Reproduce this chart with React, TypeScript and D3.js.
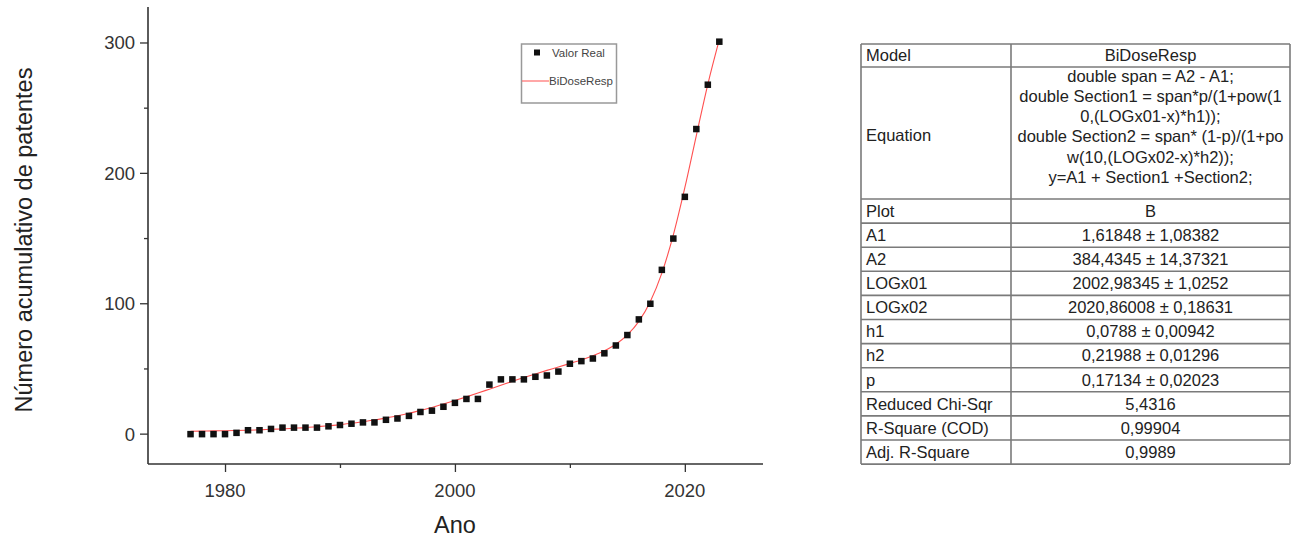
import { useEffect, useRef } from 'react';
import * as d3 from 'd3';

const years = [
  1977, 1978, 1979, 1980, 1981, 1982, 1983, 1984, 1985, 1986, 1987, 1988,
  1989, 1990, 1991, 1992, 1993, 1994, 1995, 1996, 1997, 1998, 1999, 2000,
  2001, 2002, 2003, 2004, 2005, 2006, 2007, 2008, 2009, 2010, 2011, 2012,
  2013, 2014, 2015, 2016, 2017, 2018, 2019, 2020, 2021, 2022, 2023,
];
const realValues = [
  0, 0, 0, 0, 1, 3, 3, 4, 5, 5, 5, 5,
  6, 7, 8, 9, 9, 11, 12, 14, 17, 18, 21, 24,
  27, 27, 38, 42, 42, 42, 44, 45, 48, 54, 56, 58,
  62, 68, 76, 88, 100, 126, 150, 182, 234, 268, 301,
];
// fitted BiDoseResp curve
const fitValues = [
  2.2, 2.3, 2.5, 2.6, 2.8, 3.0, 3.3, 3.7, 4.0, 4.5, 5.0, 5.7,
  6.4, 7.3, 8.3, 9.5, 10.8, 12.4, 14.1, 16.0, 18.2, 20.5, 23.1, 25.8,
  28.6, 31.5, 34.5, 37.5, 40.5, 43.4, 46.2, 48.9, 51.5, 54.2, 56.9, 60.1,
  63.9, 68.9, 76.1, 86.5, 101.8, 123.5, 152.8, 189.0, 229.0, 268.3, 302.5,
];

const xTickLabels = [1980, 2000, 2020];
const yTickLabels = [0, 100, 200, 300];

const tableLabels = [
  'Plot', 'A1', 'A2', 'LOGx01', 'LOGx02', 'h1', 'h2', 'p',
  'Reduced Chi-Sqr', 'R-Square (COD)', 'Adj. R-Square',
];
const tableValues = [
  'B', '1,61848 ± 1,08382', '384,4345 ± 14,37321', '2002,98345 ± 1,0252',
  '2020,86008 ± 0,18631', '0,0788 ± 0,00942', '0,21988 ± 0,01296',
  '0,17134 ± 0,02023', '5,4316', '0,99904', '0,9989',
];
const equationLines = [
  'double span = A2 - A1;',
  'double Section1 = span*p/(1+pow(1',
  '0,(LOGx01-x)*h1));',
  'double Section2 = span* (1-p)/(1+po',
  'w(10,(LOGx02-x)*h2));',
  'y=A1 + Section1 +Section2;',
];

const FONT = '"Liberation Sans", Arial, sans-serif';

function App() {
  const svgRef = useRef<SVGSVGElement>(null);

  useEffect(() => {
    if (!svgRef.current) return;
    const svg = d3.select(svgRef.current);
    svg.selectAll('*').remove();

    const left = 148, right = 763, top = 7, bottom = 464;
    const x = d3.scaleLinear().domain([1973.3, 2026.8]).range([left, right]);
    const y = d3.scaleLinear().domain([-22.9, 327.6]).range([bottom, top]);

    const axisColor = '#333';
    const plot = svg.append('g').attr('font-family', FONT);

    // x axis
    const xAxis = d3.axisBottom(x)
      .tickValues([1980, 1990, 2000, 2010, 2020])
      .tickSize(0)
      .tickFormat(() => '');
    const gx = plot.append('g').attr('transform', `translate(0,${bottom})`).call(xAxis);
    gx.select('.domain').remove();
    plot.append('line')
      .attr('x1', left).attr('x2', right).attr('y1', bottom).attr('y2', bottom)
      .attr('stroke', axisColor).attr('stroke-width', 1.6);
    gx.selectAll('.tick').append('line')
      .attr('y2', d => (xTickLabels.includes(d as number) ? 8 : 4))
      .attr('stroke', axisColor).attr('stroke-width', 1.3);
    plot.selectAll('.xlab')
      .data(xTickLabels)
      .enter()
      .append('text')
      .attr('x', d => x(d))
      .attr('y', 497)
      .attr('text-anchor', 'middle')
      .attr('font-size', 18.5)
      .attr('fill', axisColor)
      .text(d => d);

    // y axis
    plot.append('line')
      .attr('x1', left).attr('x2', left).attr('y1', top).attr('y2', bottom)
      .attr('stroke', axisColor).attr('stroke-width', 1.6);
    plot.selectAll('.ytick')
      .data([0, 50, 100, 150, 200, 250, 300])
      .enter()
      .append('line')
      .attr('x1', d => left - (yTickLabels.includes(d) ? 8 : 4))
      .attr('x2', left)
      .attr('y1', d => y(d)).attr('y2', d => y(d))
      .attr('stroke', axisColor).attr('stroke-width', 1.3);
    plot.selectAll('.ylab')
      .data(yTickLabels)
      .enter()
      .append('text')
      .attr('x', 135)
      .attr('y', d => y(d))
      .attr('dy', '0.35em')
      .attr('text-anchor', 'end')
      .attr('font-size', 18.5)
      .attr('fill', axisColor)
      .text(d => d);

    // axis titles
    plot.append('text')
      .attr('transform', 'translate(32,240) rotate(-90)')
      .attr('text-anchor', 'middle')
      .attr('font-size', 23.5)
      .attr('fill', '#222')
      .text('Número acumulativo de patentes');
    plot.append('text')
      .attr('x', x(2000))
      .attr('y', 533)
      .attr('text-anchor', 'middle')
      .attr('font-size', 23.5)
      .attr('fill', '#222')
      .text('Ano');

    // fit line
    const line = d3.line<number>()
      .x((_, i) => x(years[i]))
      .y(d => y(d))
      .curve(d3.curveMonotoneX);
    plot.append('path')
      .datum(fitValues)
      .attr('d', line)
      .attr('fill', 'none')
      .attr('stroke', '#ff3030')
      .attr('stroke-width', 1.1)
      .attr('opacity', 0.85);

    // data points
    const s = 6.5;
    plot.selectAll('.pt')
      .data(realValues)
      .enter()
      .append('rect')
      .attr('x', (_, i) => x(years[i]) - s / 2)
      .attr('y', d => y(d) - s / 2)
      .attr('width', s)
      .attr('height', s)
      .attr('fill', '#111');

    // legend
    const lg = plot.append('g');
    lg.append('rect')
      .attr('x', 521.5).attr('y', 44).attr('width', 95).attr('height', 59)
      .attr('fill', '#fff').attr('stroke', '#999').attr('stroke-width', 1.5);
    lg.append('rect')
      .attr('x', 534).attr('y', 49.5).attr('width', 6).attr('height', 6)
      .attr('fill', '#111');
    lg.append('text')
      .attr('x', 552).attr('y', 52.5).attr('dy', '0.35em')
      .attr('font-size', 11.5).attr('fill', '#444')
      .text('Valor Real');
    lg.append('line')
      .attr('x1', 522).attr('x2', 549).attr('y1', 81).attr('y2', 81)
      .attr('stroke', '#ff6060').attr('stroke-width', 1.1);
    lg.append('text')
      .attr('x', 549).attr('y', 81).attr('dy', '0.35em')
      .attr('font-size', 11.5).attr('fill', '#444')
      .text('BiDoseResp');

    // parameter table
    const tl = 861, tr = 1290, tc = 1011;
    const t0 = 44, modelBottom = 67, eqBottom = 199, rowH = 24.1;
    const tb = eqBottom + rowH * tableLabels.length;
    const tg = svg.append('g').attr('font-family', FONT).attr('font-size', 16.5).attr('fill', '#222');
    const border = '#7a7a7a';

    const hLines = [t0, modelBottom, eqBottom, ...tableLabels.map((_, i) => eqBottom + rowH * (i + 1))];
    tg.selectAll('.hl')
      .data(hLines)
      .enter()
      .append('line')
      .attr('x1', tl).attr('x2', tr)
      .attr('y1', d => d).attr('y2', d => d)
      .attr('stroke', border).attr('stroke-width', 1.6);
    tg.selectAll('.vl')
      .data([tl, tc, tr])
      .enter()
      .append('line')
      .attr('x1', d => d).attr('x2', d => d)
      .attr('y1', t0).attr('y2', tb)
      .attr('stroke', border).attr('stroke-width', 1.6);

    const mid = (tc + tr) / 2;
    tg.append('text').attr('x', tl + 5).attr('y', (t0 + modelBottom) / 2).attr('dy', '0.35em').text('Model');
    tg.append('text').attr('x', mid).attr('y', (t0 + modelBottom) / 2).attr('dy', '0.35em')
      .attr('text-anchor', 'middle').text('BiDoseResp');
    tg.append('text').attr('x', tl + 5).attr('y', 135).attr('dy', '0.35em').text('Equation');
    tg.selectAll('.eq')
      .data(equationLines)
      .enter()
      .append('text')
      .attr('x', mid)
      .attr('y', (_, i) => 76 + i * 20.2)
      .attr('dy', '0.35em')
      .attr('text-anchor', 'middle')
      .text(d => d);

    tg.selectAll('.lab')
      .data(tableLabels)
      .enter()
      .append('text')
      .attr('x', tl + 5)
      .attr('y', (_, i) => eqBottom + rowH * (i + 0.5))
      .attr('dy', '0.35em')
      .text(d => d);
    tg.selectAll('.val')
      .data(tableValues)
      .enter()
      .append('text')
      .attr('x', mid)
      .attr('y', (_, i) => eqBottom + rowH * (i + 0.5))
      .attr('dy', '0.35em')
      .attr('text-anchor', 'middle')
      .text(d => d);
  }, []);

  return (
    <svg
      ref={svgRef}
      width={1297}
      height={537}
      style={{ position: 'absolute', left: 0, top: 0, background: '#fff' }}
    />
  );
}

export default App;
